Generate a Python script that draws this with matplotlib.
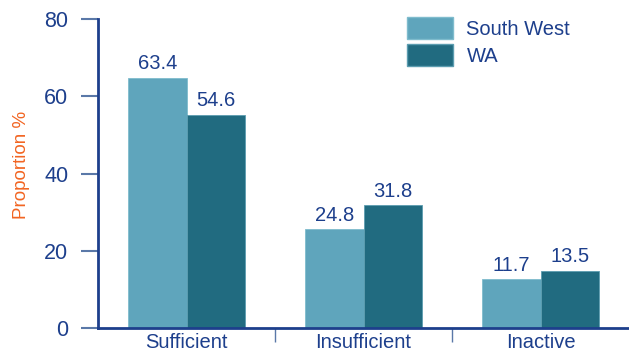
import numpy as np
import matplotlib
matplotlib.use("Agg")
import matplotlib.pyplot as plt
from matplotlib.patches import Patch

# data
categories = ["Sufficient", "Insufficient", "Inactive"]
series_names = ["South West", "WA"]
# bar heights as drawn in the picture
south_west = [64.9, 25.5, 12.6]
wa = [55.3, 31.8, 14.8]
# value labels printed over the bars
south_west_labels = ["63.4", "24.8", "11.7"]
wa_labels = ["54.6", "31.8", "13.5"]
yticks = [0, 20, 40, 60, 80]

light = "#5fa5bc"
dark = "#216b80"
navy = "#1d3f8c"
tickc = "#5a78a8"
orange = "#f26522"

plt.rcParams["font.family"] = ["Liberation Sans", "DejaVu Sans"]

fig = plt.figure(figsize=(6.29, 3.53), dpi=100)
ax = fig.add_axes([98/629, 1 - 327.7/353, 531/629, 308.4/353])

x = np.arange(len(categories))
w = 0.33
b1 = ax.bar(x - w/2, south_west, w, color=light, edgecolor="#7fbccd", linewidth=0.6)
b2 = ax.bar(x + w/2, wa, w, color=dark, edgecolor="#5c9db0", linewidth=0.6)

for bars, labs in [(b1, south_west_labels), (b2, wa_labels)]:
    for r, lab in zip(bars, labs):
        ax.annotate(lab, (r.get_x() + r.get_width()/2, r.get_height()),
                    xytext=(0, 3), textcoords="offset points",
                    ha="center", va="bottom", fontsize=14.5, color=navy)

ax.set_xlim(-0.5, 2.5)
ax.set_ylim(0, 80)
ax.set_yticks(yticks)
ax.set_yticklabels([str(t) for t in yticks], fontsize=15.5, color=navy)
ax.tick_params(axis="y", length=12, width=1.5, color=tickc, pad=9.5)

ax.set_xticks(x)
ax.set_xticklabels(categories, fontsize=14.5, color=navy)
ax.tick_params(axis="x", length=0, pad=3.5)
ax.set_xticks([0.5, 1.5], minor=True)
ax.tick_params(axis="x", which="minor", length=10, width=1, color=tickc, direction="out")

for s in ["top", "right"]:
    ax.spines[s].set_visible(False)
for s in ["left", "bottom"]:
    ax.spines[s].set_color(navy)
    ax.spines[s].set_linewidth(2)

fig.text(22/629, 1 - 165/353, "Proportion %", rotation=90, ha="center", va="center",
         fontsize=13.5, color=orange)

handles = [Patch(facecolor=light, edgecolor="#7fbccd"), Patch(facecolor=dark, edgecolor="#5c9db0")]
leg = ax.legend(handles, series_names, loc="upper left", bbox_to_anchor=(407/629, 1 - 17/353),
                bbox_transform=fig.transFigure, frameon=False, fontsize=14.5,
                handlelength=2.3, handleheight=1.3, labelspacing=0.25, handletextpad=0.65,
                borderpad=0, borderaxespad=0)
for t in leg.get_texts():
    t.set_color(navy)

fig.savefig("out.png", dpi=100)
